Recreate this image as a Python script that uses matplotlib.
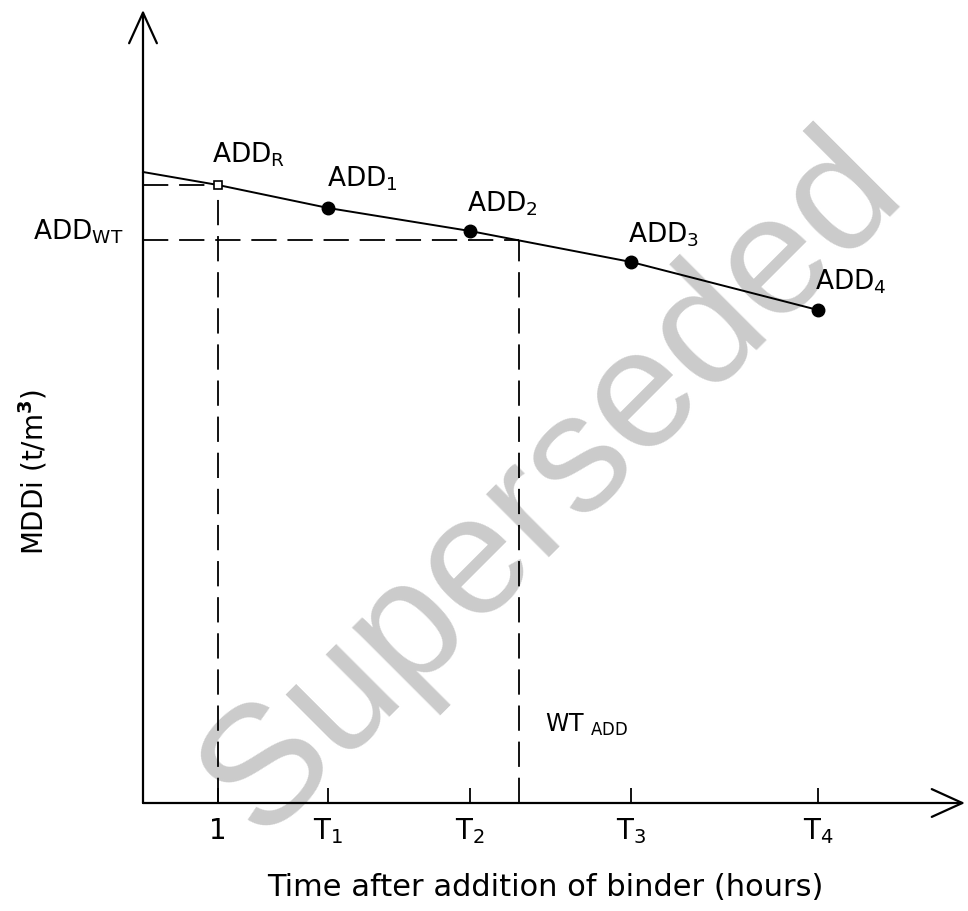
import numpy as np
import matplotlib.pyplot as plt
from matplotlib import font_manager

# police étroite type dessin technique si disponible
noms = {f.name for f in font_manager.fontManager.ttflist}
police = 'Liberation Sans Narrow' if 'Liberation Sans Narrow' in noms else 'DejaVu Sans'
plt.rcParams['font.family'] = police
plt.rcParams['mathtext.default'] = 'regular'

# Temps (heures) des essais et étiquettes de l'axe des abscisses
temps = [1, 2.47, 4.36, 6.51, 9.0]
etiquettes_temps = ['1', 'T$_1$', 'T$_2$', 'T$_3$', 'T$_4$']

# MDD mesurées (t/m3)
add_r = 2.118
temps_add = [2.47, 4.36, 6.51, 9.0]
mdd_add = [2.095, 2.072, 2.041, 1.993]
noms_add = ['ADD$_1$', 'ADD$_2$', 'ADD$_3$', 'ADD$_4$']

# droite prolongée jusqu'à t = 0
mdd_t0 = 2.131

# temps de travail et MDD correspondante
wt = 5.01
add_wt = 2.063

mdd_min = 1.5
x_max = 10.96
y_max = 2.293

fig = plt.figure(figsize=(9.68, 9.11), dpi=100)
ax = fig.add_axes([0, 0, 1, 1])
ax.set_xlim(-143 / 75, 825 / 75)
ax.set_ylim(1.392, 2.303)
ax.axis('off')

# axes avec flèches ouvertes
fleche = dict(arrowstyle='->,head_length=2.2,head_width=1.0', lw=1.6, color='black',
              shrinkA=0, shrinkB=0)
ax.annotate('', xy=(0, y_max), xytext=(0, mdd_min), arrowprops=fleche)
ax.annotate('', xy=(x_max, mdd_min), xytext=(0, mdd_min), arrowprops=fleche)

# graduations
ax.vlines(temps, mdd_min, mdd_min + 0.015, color='black', lw=1.3)
for t, lab in zip(temps, etiquettes_temps):
    ax.text(t, 1.472, lab, ha='center', va='center', fontsize=20)

# droite MDD = f(t)
ax.plot([0, 1] + temps_add, [mdd_t0, add_r] + mdd_add, color='black', lw=1.4, zorder=3)
ax.plot(temps_add, mdd_add, 'o', color='black', ms=9, zorder=4)
ax.plot([1], [add_r], 's', mfc='white', mec='black', ms=6, mew=1.2, zorder=4)

# lignes de lecture en pointillés
tirets = dict(color='black', lw=1.3, linestyle=(0, (14, 6)), zorder=2)
ax.plot([0, 1], [add_r, add_r], **tirets)
ax.plot([1, 1], [mdd_min, add_r], **tirets)
ax.plot([0, wt], [add_wt, add_wt], **tirets)
ax.plot([wt, wt], [mdd_min, add_wt], **tirets)

# étiquettes des points
ax.text(0.92, 2.140, 'ADD$_R$', fontsize=19, va='baseline')
pos_x = [2.453, 4.32, 6.467, 8.96]
pos_y = [2.116, 2.091, 2.060, 2.013]
for x, y, lab in zip(pos_x, pos_y, noms_add):
    ax.text(x, y, lab, fontsize=19, va='baseline')
ax.text(-1.467, 2.063, 'ADD$_{WT}$', fontsize=19, va='baseline')
ax.text(5.36, 1.571, 'WT $_{ADD}$', fontsize=17, va='baseline')

# titres des axes
ax.text(5.36, 1.415, 'Time after addition of binder (hours)', ha='center', va='center',
        fontsize=22)
ax.text(-1.467, 1.831, 'MDDi (t/m$^\\mathbf{3}$)', ha='center', va='center',
        rotation=90, fontsize=20)

# filigrane
ax.text(5.45, 1.818, 'Superseded', family='Liberation Sans', fontsize=122, color='#cbcbcb',
        rotation=45, ha='center', va='center', rotation_mode='anchor', zorder=0)

fig.savefig('out.png', dpi=100)
